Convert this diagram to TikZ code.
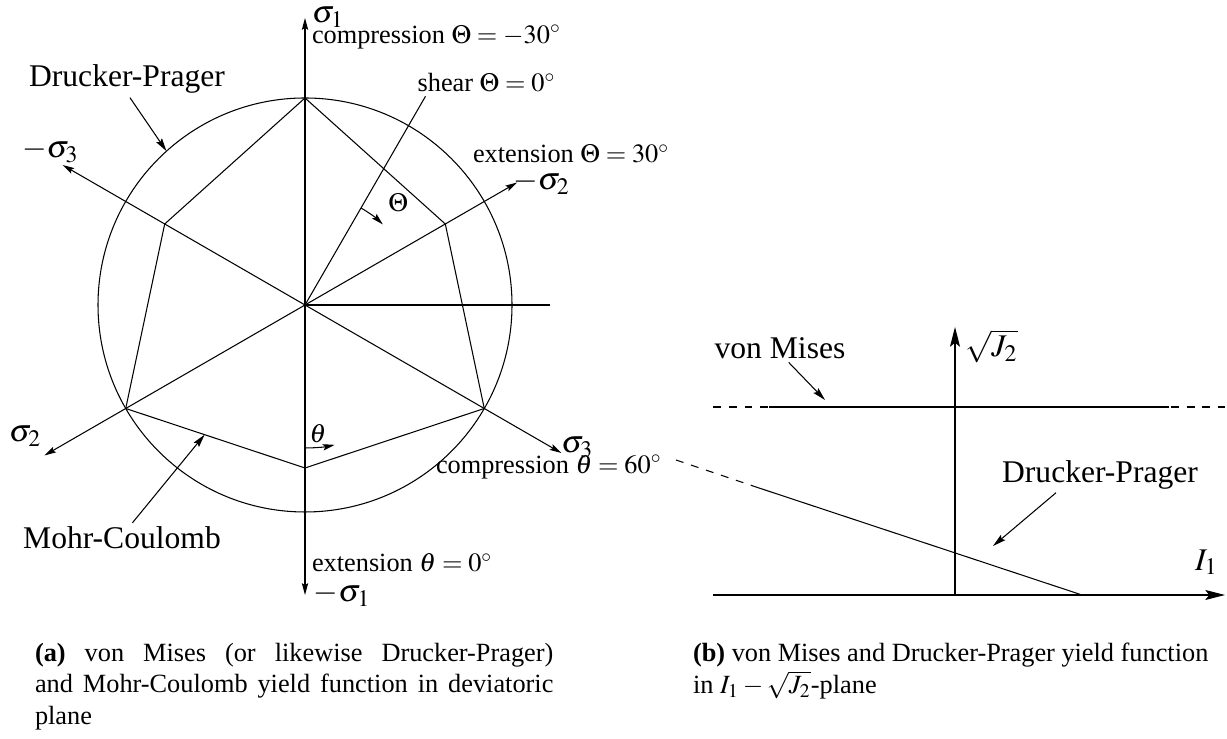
\documentclass[tikz,border=0pt]{standalone}
\usepackage{mathptmx}
\usepackage{fontspec}
\setmainfont{Liberation Serif}
\usetikzlibrary{arrows.meta, positioning, calc}

\begin{document}
\begin{tikzpicture}[
  x=0.38pt, y=0.38pt,
  every node/.style={inner sep=0pt, outer sep=0pt},
  axis/.style={-{Stealth[length=4.5pt, width=2.4pt, inset=0.8pt]}},
  bigaxis/.style={-{Stealth[length=7.5pt, width=3.8pt, inset=1.5pt]}},
  lead/.style={-{Stealth[length=5pt, width=2.6pt, inset=0.8pt]}, shorten <=2pt},
  big/.style={font=\large},
  note/.style={font=\normalsize, anchor=west},
  capt/.style={text width=197pt, align=justify, anchor=north west}
]
\useasboundingbox (0,0) rectangle (1227,739);

% (a) deviatoric plane
\begin{scope}[shift={(305,434)}]
\coordinate (O) at (0,0);
\coordinate (c1) at (90:207);
\coordinate (e1) at (30:162);
\coordinate (c2) at (330:207);
\coordinate (e2) at (270:163);
\coordinate (c3) at (210:207);
\coordinate (e3) at (150:162);
\draw (O) circle[radius=207];
\draw (c1) -- (e1) -- (c2) -- (e2) -- (c3) -- (e3) -- cycle;

\coordinate (s1) at (90:287);
\coordinate (ms1) at (270:290);
\coordinate (ms2) at (30:245);
\coordinate (ms3) at (150:280);
\coordinate (s2) at (210:301);
\coordinate (s3) at (330:296);
\foreach \tip in {s1,ms1,ms2,ms3,s2,s3}
  \draw[axis] (O) -- (\tip);
\coordinate (hx) at (0:245);
\coordinate (sh) at (60:241);
\draw (O) -- (hx);
\draw (O) -- (sh);

\draw[axis] (60:112) arc[start angle=60, end angle=46, radius=112];
\draw[axis] (270:143) arc[start angle=270, end angle=282, radius=143];
\node (Thl) at (93,102) {$\Theta$};
\node (thl) at (13,-129) {$\theta$};

\node[big, above right=-3.6pt and 2.7pt of s1] (s1l) {$\sigma_1$};
\node[big, right=3.4pt of ms1] (ms1l) {$-\sigma_1$};
\node[big, right=-1.5pt of ms2] (ms2l) {$-\sigma_2$};
\node[big, above=0.8pt of ms3, xshift=-4.6pt] (ms3l) {$-\sigma_3$};
\node[big, above left=3.4pt and 1.1pt of s2] (s2l) {$\sigma_2$};
\node[big, above right=-1.9pt and 0pt of s3] (s3l) {$\sigma_3$};

\node[font=\normalsize, above right=1.5pt and -3pt of sh] (shl) {shear $\Theta=0^\circ$};
\node[note] (cmpa) at (7,268) {compression $\Theta=-30^\circ$};
\node[note] (exta) at (168,151) {extension $\Theta=30^\circ$};
\node[note] (cmpb) at (131,-162) {compression $\theta=60^\circ$};
\node[note] (extb) at (7,-258) {extension $\theta=0^\circ$};

\node[big] (dpa) at (-178,226) {Drucker-Prager};
\coordinate (dpc) at (132:207);
\draw[lead] (dpa.south) -- (dpc);
\node[big] (mca) at (-183,-233) {Mohr-Coulomb};
\coordinate (mcp) at ($(c3)!0.44!(e2)$);
\draw[lead] ([xshift=2.7pt]mca.north) -- (mcp);
\end{scope}

% (b) I1 - sqrt(J2) plane
\begin{scope}[shift={(955,144)}]
\coordinate (P) at (0,0);
\coordinate (Jtop) at (0,268);
\coordinate (Ileft) at (-242,0);
\coordinate (Iright) at (270,0);
\draw[bigaxis] (Ileft) -- (Iright);
\draw[bigaxis] (P) -- (Jtop);

\coordinate (vm1) at (-242,188);
\coordinate (vm2) at (-186,188);
\coordinate (vm3) at (214,188);
\coordinate (vm4) at (270,188);
\draw[dashed] (vm1) -- (vm4);
\draw (vm2) -- (vm3);

\coordinate (dp1) at (-279,135);
\coordinate (dp2) at (-199,108);
\coordinate (dp3) at (127,0);
\draw[dashed] (dp1) -- (dp2);
\draw (dp2) -- (dp3);

\node[big, below right=1.1pt and 3.8pt of Jtop] (jl) {$\sqrt{J_2}$};
\node[big, above left=7.6pt and 2.7pt of Iright] (il) {$I_1$};

\node[big] (vml) at (-175,247) {von Mises};
\coordinate (vmp) at (-130,195);
\draw[lead] ([xshift=1.9pt]vml.south) -- (vmp);
\node[big] (dpl) at (145,120) {Drucker-Prager};
\coordinate (dpp) at (38,49);
\draw[lead] ([xshift=-15.2pt]dpl.south) -- (dpp);
\end{scope}

\node[capt] (capa) at (35,96) {\textbf{(a)} von Mises (or likewise Drucker-Prager)\linebreak and Mohr-Coulomb yield function in deviatoric plane};
\node[capt] (capb) at (693,96) {\textbf{(b)} von Mises and Drucker-Prager yield function\\ in $I_1-\sqrt{J_2}$-plane};
\end{tikzpicture}
\end{document}
